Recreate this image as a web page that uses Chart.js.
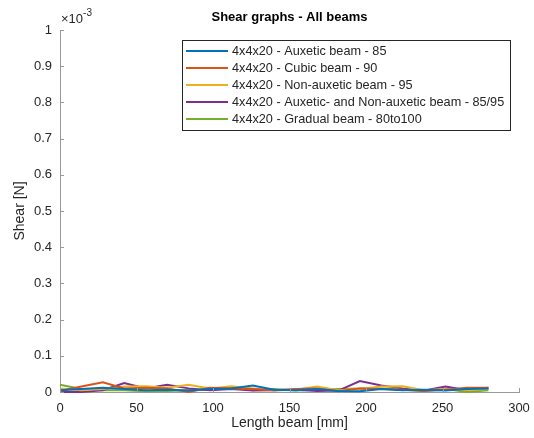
<!DOCTYPE html>
<html lang="en">
<head>
  <meta charset="UTF-8">
  <title>Shear graphs - All beams</title>
  <style>
    body {
      margin: 0;
      padding: 0;
      background-color: #fff;
    }
    #chart {
      display: block;
    }
  </style>
</head>
<body>
  <canvas id="chart" width="534" height="438"></canvas>

  <script src="https://cdn.jsdelivr.net/npm/chart.js"></script>
  <script>
    // length along the beam [mm]
    const lengths = [0, 14, 28, 42, 56, 70, 84, 98, 112, 126, 140, 154, 168, 182, 196, 210, 224, 238, 252, 266, 280];

    // shear values, in units of 1e-3 N
    const auxetic85 = [0.005, 0.008, 0.012, 0.008, 0.005, 0.006, 0.004, 0.008, 0.010, 0.018, 0.006, 0.005, 0.008, 0.003, 0.002, 0.008, 0.005, 0.006, 0.004, 0.008, 0.010];
    const cubic90 = [0.003, 0.015, 0.027, 0.010, 0.012, 0.010, 0.000, 0.012, 0.010, 0.008, 0.005, 0.008, 0.010, 0.002, 0.010, 0.008, 0.006, 0.003, 0.006, 0.012, 0.012];
    const nonAuxetic95 = [0.010, 0.005, 0.008, 0.015, 0.016, 0.012, 0.020, 0.010, 0.016, 0.010, 0.005, 0.006, 0.015, 0.005, 0.008, 0.015, 0.016, 0.005, 0.008, 0.005, 0.008];
    const mixed8595 = [0.000, 0.000, 0.005, 0.025, 0.010, 0.020, 0.010, 0.005, 0.008, 0.004, 0.005, 0.006, 0.003, 0.004, 0.030, 0.018, 0.010, 0.004, 0.015, 0.005, 0.012];
    const gradual80to100 = [0.020, 0.008, 0.005, 0.005, 0.002, 0.003, 0.005, 0.006, 0.012, 0.005, 0.008, 0.004, 0.006, 0.008, 0.010, 0.010, 0.006, 0.003, 0.008, 0.000, 0.005];

    const seriesNames = [
      '4x4x20 - Auxetic beam - 85',
      '4x4x20 - Cubic beam - 90',
      '4x4x20 - Non-auxetic beam - 95',
      '4x4x20 - Auxetic- and Non-auxetic beam - 85/95',
      '4x4x20 - Gradual beam - 80to100'
    ];
    const seriesValues = [auxetic85, cubic90, nonAuxetic95, mixed8595, gradual80to100];
    const seriesColors = ['#0072BD', '#D95319', '#EDB120', '#7E2F8E', '#77AC30'];

    const xTicks = [0, 50, 100, 150, 200, 250, 300];
    const yTicks = [0, 0.1, 0.2, 0.3, 0.4, 0.5, 0.6, 0.7, 0.8, 0.9, 1];

    const axisColor = '#9a9a9a';
    const textColor = '#262626';
    const fontFamily = 'Arial, "Liberation Sans", sans-serif';

    // titles, inward ticks, exponent and the boxed legend
    const matlabLook = {
      id: 'matlabLook',
      afterDraw(chart) {
        const ctx = chart.ctx;
        const area = chart.chartArea;
        const xs = chart.scales.x;
        const ys = chart.scales.y;
        ctx.save();

        // inward ticks
        ctx.strokeStyle = axisColor;
        ctx.lineWidth = 1;
        ctx.beginPath();
        xTicks.forEach(function(t) {
          const px = Math.round(xs.getPixelForValue(t)) + 0.5;
          ctx.moveTo(px, area.bottom);
          ctx.lineTo(px, area.bottom - 4);
        });
        yTicks.forEach(function(t) {
          const py = Math.round(ys.getPixelForValue(t)) + 0.5;
          ctx.moveTo(area.left, py);
          ctx.lineTo(area.left + 4, py);
        });
        ctx.stroke();

        // title
        ctx.fillStyle = '#000';
        ctx.font = 'bold 13px ' + fontFamily;
        ctx.textAlign = 'center';
        ctx.textBaseline = 'middle';
        ctx.fillText('Shear graphs - All beams', (area.left + area.right) / 2, 17);

        // axis titles
        ctx.fillStyle = textColor;
        ctx.font = '14px ' + fontFamily;
        ctx.fillText('Length beam [mm]', (area.left + area.right) / 2, 423);
        ctx.save();
        ctx.translate(20, (area.top + area.bottom) / 2);
        ctx.rotate(-Math.PI / 2);
        ctx.fillText('Shear [N]', 0, 0);
        ctx.restore();

        // exponent
        ctx.textAlign = 'left';
        ctx.textBaseline = 'alphabetic';
        ctx.font = '13px ' + fontFamily;
        ctx.fillText('\u00d710', 61, 23);
        const w = ctx.measureText('\u00d710').width;
        ctx.font = '10px ' + fontFamily;
        ctx.fillText('-3', 61 + w, 16);

        // legend
        const bx = 182.5, by = 40.5, bw = 328, bh = 90;
        ctx.fillStyle = '#fff';
        ctx.fillRect(bx, by, bw, bh);
        ctx.strokeStyle = '#262626';
        ctx.lineWidth = 1;
        ctx.strokeRect(bx, by, bw, bh);
        ctx.font = '12.7px ' + fontFamily;
        ctx.textBaseline = 'middle';
        chart.data.datasets.forEach(function(ds, i) {
          const ly = 51 + i * 17;
          ctx.strokeStyle = ds.borderColor;
          ctx.lineWidth = 2;
          ctx.beginPath();
          ctx.moveTo(186, ly);
          ctx.lineTo(228, ly);
          ctx.stroke();
          ctx.fillStyle = textColor;
          ctx.fillText(ds.label, 232, ly);
        });
        ctx.restore();
      }
    };

    new Chart(document.getElementById('chart'), {
      type: 'line',
      data: {
        datasets: seriesNames.map(function(name, i) {
          return {
            label: name,
            data: lengths.map(function(x, j) { return { x: x, y: seriesValues[i][j] }; }),
            borderColor: seriesColors[i],
            backgroundColor: seriesColors[i],
            borderWidth: 2,
            pointRadius: 0,
            tension: 0,
            clip: false
          };
        })
      },
      options: {
        responsive: false,
        animation: false,
        layout: { padding: { left: 0, top: 30, right: 15, bottom: 0 } },
        plugins: {
          legend: { display: false },
          tooltip: { enabled: false }
        },
        scales: {
          x: {
            type: 'linear',
            min: 0,
            max: 300,
            afterFit: function(scale) {
              scale.height = 46;
              scale.paddingLeft = 0;
              scale.paddingRight = 0;
            },
            afterBuildTicks: function(scale) { scale.ticks = xTicks.map(function(v) { return { value: v }; }); },
            grid: { display: false, drawTicks: false },
            border: { display: true, color: axisColor, width: 1 },
            ticks: { color: textColor, padding: 9, maxRotation: 0, font: { size: 13, family: fontFamily } }
          },
          y: {
            min: 0,
            max: 1,
            afterFit: function(scale) {
              scale.width = 60;
              scale.paddingTop = 0;
              scale.paddingBottom = 0;
            },
            afterBuildTicks: function(scale) { scale.ticks = yTicks.map(function(v) { return { value: v }; }); },
            grid: { display: false, drawTicks: false },
            border: { display: true, color: axisColor, width: 1 },
            ticks: {
              color: textColor,
              padding: 8,
              font: { size: 13, family: fontFamily },
              callback: function(v) { return String(Math.round(v * 10) / 10); }
            }
          }
        }
      },
      plugins: [matlabLook]
    });
  </script>
</body>
</html>
